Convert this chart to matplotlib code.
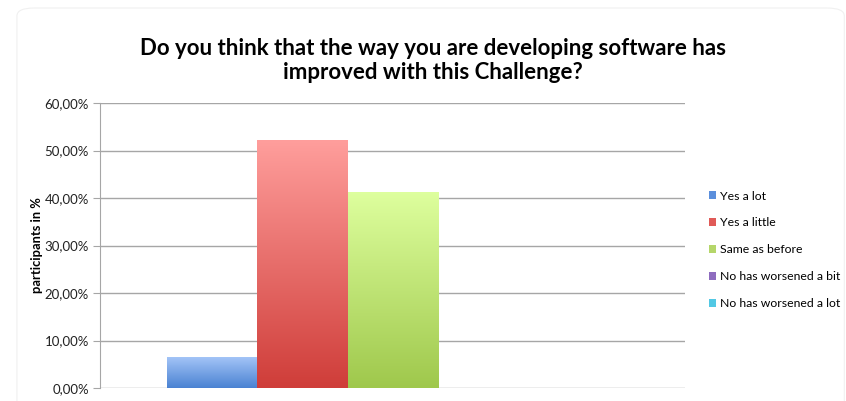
import matplotlib.pyplot as plt
import numpy as np
from matplotlib.colors import LinearSegmentedColormap
from matplotlib.patches import FancyBboxPatch, Patch
from matplotlib.ticker import FuncFormatter

plt.rcParams["font.family"] = ["Lato", "DejaVu Sans"]

answers = ["Yes a lot", "Yes a little", "Same as before",
           "No has worsened a bit", "No has worsened a lot"]
shares = [6.52, 52.17, 41.30, 0.0, 0.0]

# (top, bottom) gradient colours for each bar, plus a flat legend swatch colour
top_colors = ["#a3c4f7", "#ff9e9c", "#deff9e", "#b9a3d6", "#9ee6f5"]
bottom_colors = ["#4a82d2", "#cf3d39", "#9fc84c", "#7c5aaa", "#3fbbd8"]
swatches = ["#5b8fdc", "#e05a57", "#b5d66a", "#8e6cbf", "#52c8e4"]

title = "Do you think that the way you are developing software has\nimproved with this Challenge?"

fig = plt.figure(figsize=(8.46, 4.01), dpi=100)

# faint rounded chart border
frame = FancyBboxPatch((0.02, -0.05), 0.978, 1.03,
                       boxstyle="round,pad=0,rounding_size=0.02",
                       transform=fig.transFigure, fill=False,
                       ec="#f0f0f0", lw=0.8, zorder=0)
fig.add_artist(frame)

ax = fig.add_axes([0.1182, 0.0324, 0.6915, 0.7107])

x = np.arange(len(answers))
bars = ax.bar(x, shares, width=1.0, color="none", edgecolor="none", zorder=3)

# vertical gradient fill clipped to each bar
for bar, c_top, c_bot in zip(bars, top_colors, bottom_colors):
    h = bar.get_height()
    if h <= 0:
        continue
    cmap = LinearSegmentedColormap.from_list("g", [c_bot, c_top])
    grad = np.linspace(0, 1, 256).reshape(-1, 1)
    x0 = bar.get_x()
    im = ax.imshow(grad, cmap=cmap, origin="lower", aspect="auto",
                   extent=(x0, x0 + bar.get_width(), 0, h), zorder=3)
    im.set_clip_path(bar)

ax.set_xlim(-1.25, 5.25)
ax.set_ylim(0, 60)
ax.set_yticks(np.arange(0, 61, 10))
ax.yaxis.set_major_formatter(FuncFormatter(lambda v, _: f"{v:.2f}%".replace(".", ",")))
ax.set_xticks([])

ax.grid(axis="y", color="#a6a6a6", lw=1.0, zorder=1)
ax.set_axisbelow(True)
for side in ["top", "right", "bottom"]:
    ax.spines[side].set_visible(False)
ax.spines["left"].set_color("#a6a6a6")
ax.tick_params(axis="y", length=5, color="#a6a6a6", labelsize=9.5,
               labelcolor="#222222", pad=3)

ax.set_ylabel("participants in %", fontsize=9.3, fontweight="bold", labelpad=1)

fig.text(0.512, 0.905, title, ha="center", va="top", fontsize=16,
         fontweight="bold", linespacing=1.2)

handles = [Patch(facecolor=c, edgecolor="none") for c in swatches]
ax.legend(handles, answers, loc="center left", bbox_to_anchor=(1.022, 0.485),
          frameon=False, fontsize=8.8, handlelength=0.6, handleheight=0.6,
          handletextpad=0.3, labelspacing=1.3)

fig.savefig("out.png", dpi=100)
